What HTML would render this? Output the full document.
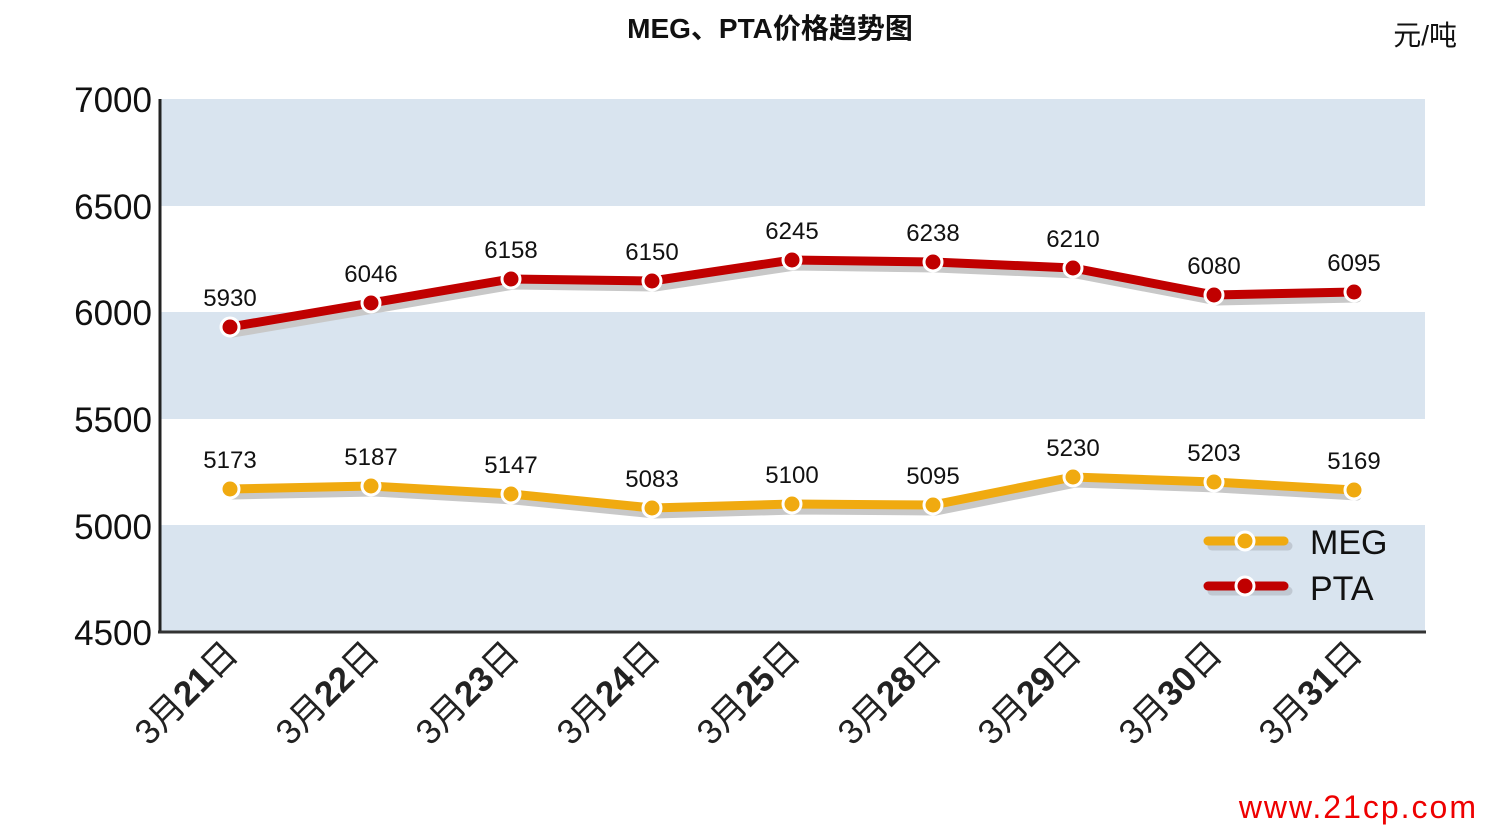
<!DOCTYPE html>
<html><head><meta charset="utf-8"><style>
html,body{margin:0;padding:0;background:#fff}
svg{display:block;font-family:"Liberation Sans","Noto Sans CJK SC",sans-serif}
</style></head><body>
<svg width="1497" height="832" viewBox="0 0 1497 832" xmlns="http://www.w3.org/2000/svg">
<rect x="160" y="99" width="1265" height="107" fill="#d9e4ef"/>
<rect x="160" y="312" width="1265" height="107" fill="#d9e4ef"/>
<rect x="160" y="525" width="1265" height="107" fill="#d9e4ef"/>
<line x1="160" y1="99" x2="160" y2="633" stroke="#222" stroke-width="3"/>
<line x1="158" y1="632" x2="1426" y2="632" stroke="#333" stroke-width="3"/>
<g font-size="35" fill="#111" text-anchor="end">
<text x="152" y="112">7000</text><text x="152" y="219">6500</text><text x="152" y="325">6000</text>
<text x="152" y="432">5500</text><text x="152" y="539">5000</text><text x="152" y="645">4500</text>
</g>
<text x="770" y="38" font-size="28" font-weight="bold" text-anchor="middle" fill="#111">MEG、PTA价格趋势图</text>
<text x="1457" y="45" font-size="28" text-anchor="end" fill="#111">元/吨</text>
<text x="1478" y="818" font-size="32" text-anchor="end" fill="#e00" letter-spacing="2">www.21cp.com</text>
<g fill="none" stroke-linejoin="round" stroke-linecap="round" stroke-width="9">
<polyline stroke="#c8c8c8" transform="translate(3,6)" points="230,489 371,486 511,494 652,508 792,504 933,505 1073,477 1214,482 1354,490"/>
<polyline stroke="#c8c8c8" transform="translate(3,6)" points="230,327 371,303 511,279 652,281 792,260 933,262 1073,268 1214,295 1354,292"/>
<polyline stroke="#f0aa10" points="230,489 371,486 511,494 652,508 792,504 933,505 1073,477 1214,482 1354,490"/>
<polyline stroke="#c00000" points="230,327 371,303 511,279 652,281 792,260 933,262 1073,268 1214,295 1354,292"/>
</g>
<g stroke="#fff" stroke-width="3">
<g fill="#f0aa10">
<circle cx="230" cy="489" r="9"/><circle cx="371" cy="486" r="9"/><circle cx="511" cy="494" r="9"/><circle cx="652" cy="508" r="9"/><circle cx="792" cy="504" r="9"/><circle cx="933" cy="505" r="9"/><circle cx="1073" cy="477" r="9"/><circle cx="1214" cy="482" r="9"/><circle cx="1354" cy="490" r="9"/>
</g>
<g fill="#c00000">
<circle cx="230" cy="327" r="9"/><circle cx="371" cy="303" r="9"/><circle cx="511" cy="279" r="9"/><circle cx="652" cy="281" r="9"/><circle cx="792" cy="260" r="9"/><circle cx="933" cy="262" r="9"/><circle cx="1073" cy="268" r="9"/><circle cx="1214" cy="295" r="9"/><circle cx="1354" cy="292" r="9"/>
</g>
</g>
<g font-size="24" fill="#111" text-anchor="middle">
<text x="230" y="306">5930</text><text x="371" y="282">6046</text><text x="511" y="258">6158</text><text x="652" y="260">6150</text><text x="792" y="239">6245</text><text x="933" y="241">6238</text><text x="1073" y="247">6210</text><text x="1214" y="274">6080</text><text x="1354" y="271">6095</text>
<text x="230" y="468">5173</text><text x="371" y="465">5187</text><text x="511" y="473">5147</text><text x="652" y="487">5083</text><text x="792" y="483">5100</text><text x="933" y="484">5095</text><text x="1073" y="456">5230</text><text x="1214" y="461">5203</text><text x="1354" y="469">5169</text>
</g>
<g stroke-linecap="round" stroke-width="9">
<line x1="1212" y1="546" x2="1288" y2="546" stroke="#c0c8d2"/>
<line x1="1208" y1="541" x2="1284" y2="541" stroke="#f0aa10"/>
<line x1="1212" y1="591" x2="1288" y2="591" stroke="#c0c8d2"/>
<line x1="1208" y1="586" x2="1284" y2="586" stroke="#c00000"/>
<circle cx="1245" cy="541" r="9" fill="#f0aa10" stroke="#fff" stroke-width="3"/>
<circle cx="1245" cy="586" r="9" fill="#c00000" stroke="#fff" stroke-width="3"/>
</g>
<text x="1310" y="554" font-size="34" fill="#111">MEG</text>
<text x="1310" y="600" font-size="34" fill="#111">PTA</text>
<g font-size="35" fill="#222" text-anchor="end">
<text transform="translate(240,656) rotate(-45)">3月<tspan font-weight="bold">21</tspan>日</text>
<text transform="translate(381,656) rotate(-45)">3月<tspan font-weight="bold">22</tspan>日</text>
<text transform="translate(521,656) rotate(-45)">3月<tspan font-weight="bold">23</tspan>日</text>
<text transform="translate(662,656) rotate(-45)">3月<tspan font-weight="bold">24</tspan>日</text>
<text transform="translate(802,656) rotate(-45)">3月<tspan font-weight="bold">25</tspan>日</text>
<text transform="translate(943,656) rotate(-45)">3月<tspan font-weight="bold">28</tspan>日</text>
<text transform="translate(1083,656) rotate(-45)">3月<tspan font-weight="bold">29</tspan>日</text>
<text transform="translate(1224,656) rotate(-45)">3月<tspan font-weight="bold">30</tspan>日</text>
<text transform="translate(1364,656) rotate(-45)">3月<tspan font-weight="bold">31</tspan>日</text>
</g>
</svg>
</body></html>
